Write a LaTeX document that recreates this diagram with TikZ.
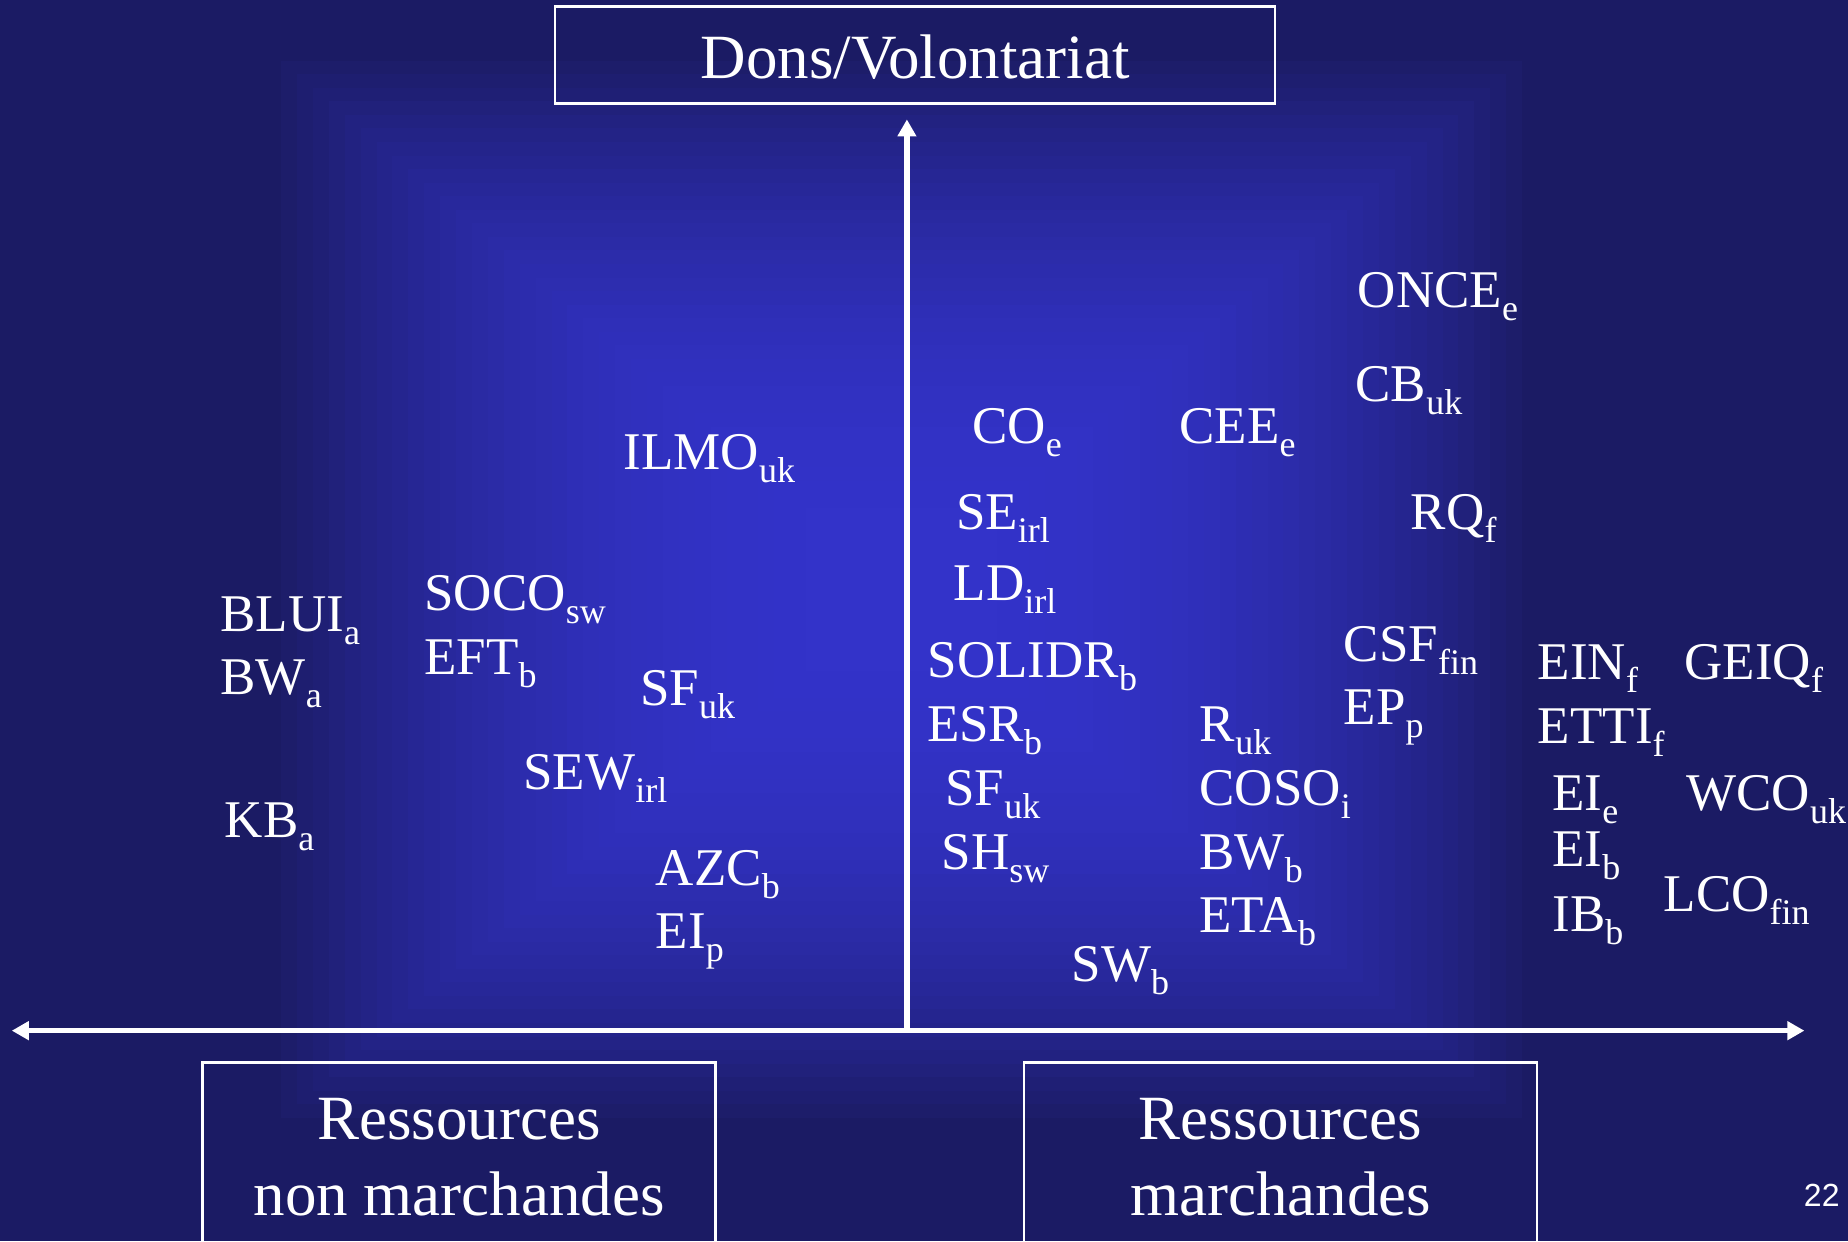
\documentclass[tikz,border=0pt]{standalone}
\usepackage{fontspec}
\setmainfont{Liberation Serif}
\setsansfont{Liberation Sans}
\usetikzlibrary{arrows.meta}
\definecolor{bgout}{RGB}{27,27,100}
\definecolor{bgin}{RGB}{51,51,202}
% label with lowered index
\newcommand{\lab}[2]{#1\raisebox{-13pt}{\fontsize{36}{36}\selectfont #2}}

\begin{document}
\begin{tikzpicture}[x=1.1786pt, y=-1.1786pt,
  lbl/.style={text=white, anchor=base west, inner sep=0pt, font=\fontsize{53}{60}\selectfont},
  bigtext/.style={text=white, anchor=base, inner sep=0pt, font=\fontsize{63}{72}\selectfont},
  axisline/.style={white, line width=5.5pt},
  boxline/.style={draw=white, line width=2.5pt},
  axtip/.tip={Triangle[length=17pt, width=18pt]}]

  % Slide background
  \useasboundingbox (0,0) rectangle (1568,1053);
  \clip (0,0) rectangle (1568,1053);
  \fill[bgout] (0,0) rectangle (1568,1053);
  \foreach \i in {0,...,39} {
    \pgfmathsetmacro{\w}{540*(1-\i/40)}
    \pgfmathsetmacro{\h}{460*(1-\i/40)}
    \pgfmathtruncatemacro{\p}{100*(1-(1-\i/40)^2.5)}
    \fill[bgin!\p!bgout] (765-\w,500-\h) rectangle (765+\w,500+\h);
  }

  % Axes
  \coordinate (O) at (769.5,874.5);
  \coordinate (W) at (10,874.5);
  \coordinate (E) at (1531,874.5);
  \coordinate (N) at (769.5,101.3);
  \draw[axisline, axtip-axtip] (W) -- (E);
  \draw[axisline, -axtip] (O) -- (N);

  % Axis titles
  \node[boxline, text=white, font=\fontsize{63}{72}\selectfont, minimum width=720pt,
    minimum height=97pt, text height=47pt, text depth=0pt] (dons) at (776.5,46.5) {Dons/Volontariat};
  \draw[boxline] (172,901.6) rectangle (607,1080);
  \draw[boxline] (869,901.6) rectangle (1304,1080);
  \node[bigtext] (nmA) at (389.5,966.7) {Ressources};
  \node[bigtext] (nmB) at (389.5,1031) {non marchandes};
  \node[bigtext] (mA) at (1086.5,966.7) {Ressources};
  \node[bigtext] (mB) at (1086.5,1031) {marchandes};

  % Organisations
  \foreach \nm/\x/\y/\main/\sub in {
    once/1152/261/ONCE/e, cb/1150/340.5/CB/uk, co/824.7/376/CO/e, cee/1000.6/376/CEE/e,
    ilmo/529/398.5/ILMO/uk, se/811/449/SE/irl, rq/1197/449/RQ/f, ld/809/509.4/LD/irl,
    blui/187/535.8/BLUI/a, soco/360/518/SOCO/sw, eft/360/572/EFT/b, bwa/187/589.4/BW/a,
    sfl/543/599/SF/uk, solidr/787/574.6/SOLIDR/b, csf/1140/561/CSF/fin, ein/1304.7/576.4/EIN/f,
    geiq/1429.2/576.4/GEIQ/f, ep/1140/615/EP/p, etti/1304.7/630.7/ETTI/f, esr/786.4/629/ESR/b,
    ruk/1018/629/R/uk, sew/444/670/SEW/irl, sfr/802/683.6/SF/uk, coso/1017.5/683.6/COSO/i,
    eie/1317/687.8/EI/e, wco/1430.7/687.8/WCO/uk, kb/190.6/710.5/KB/a, sh/798.8/738/SH/sw,
    bwb/1017.5/738/BW/b, eib/1317/735.4/EI/b, azc/556.4/751/AZC/b, lco/1411.4/773.5/LCO/fin,
    eta/1017.5/791.6/ETA/b, ibb/1317/790.5/IB/b, eip/556.4/805/EI/p, swb/909/833/SW/b} {
    \node[lbl] (\nm) at (\x,\y) {\lab{\main}{\sub}};
  }

  % Page number
  \node[text=white, anchor=base east, inner sep=0pt, font=\sffamily\fontsize{32}{32}\selectfont] (page) at (1561,1023.3) {22};
\end{tikzpicture}
\end{document}
